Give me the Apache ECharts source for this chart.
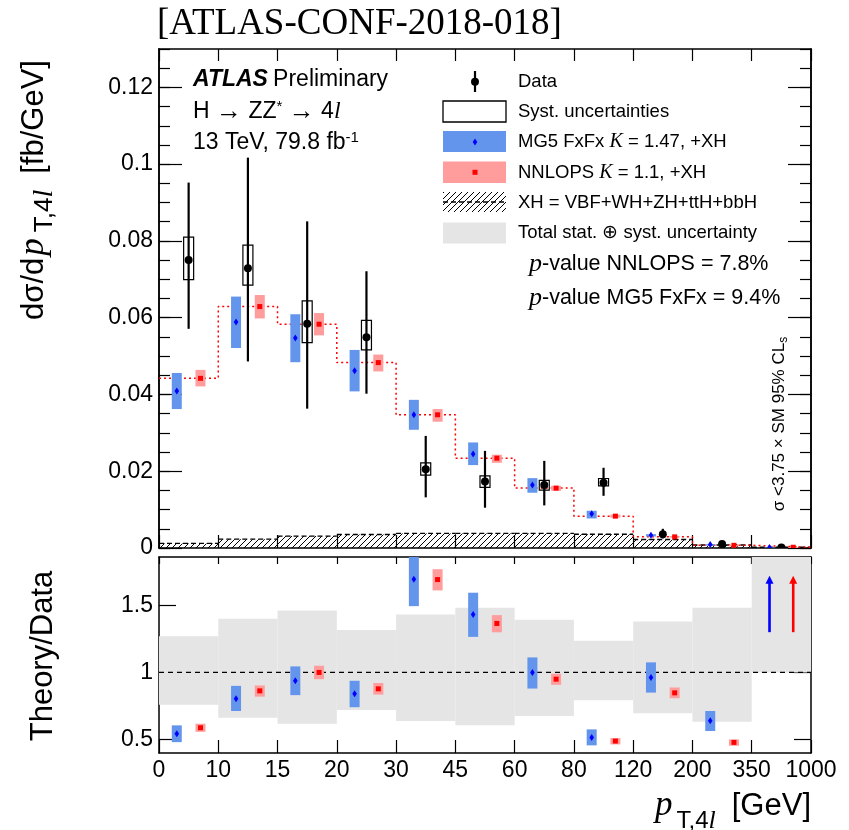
<!DOCTYPE html>
<html>
<head>
<meta charset="utf-8">
<script src="https://cdn.jsdelivr.net/npm/echarts@6/dist/echarts.min.js"></script>
<style>
  html, body { margin: 0; padding: 0; background: #fff; }
  #chart { width: 849px; height: 830px; }
</style>
</head>
<body>
<div id="chart"></div>
<script>
// Bin edges of p_T,4l [GeV]; bins are drawn with equal display width
const binEdges = ['0', '10', '15', '20', '30', '45', '60', '80', '120', '200', '350', '1000'];

// Measured differential cross section [fb/GeV]
const dataVal   = [0.0750, 0.0729, 0.0584, 0.0549, 0.0205, 0.0173, 0.0164, 0.0170, 0.0036, 0.00104, 0.0001];
const dataErrHi = [0.0952, 0.1017, 0.0851, 0.0721, 0.0292, 0.0253, 0.0227, 0.0209, 0.0050, 0.00154, 0.0005];
const dataErrLo = [0.0571, 0.0486, 0.0363, 0.0402, 0.0132, 0.0105, 0.0111, 0.0136, 0.0025, 0.00066, 0.0];
const systHi    = [0.0810, 0.0789, 0.0644, 0.0593, 0.0222, 0.0188, 0.0176, 0.0181, null, null, null];
const systLo    = [0.0699, 0.0685, 0.0535, 0.0516, 0.0190, 0.0158, 0.0151, 0.0162, null, null, null];

// MG5 FxFx (K = 1.47) + XH prediction
const mgVal = [0.0409, 0.0589, 0.0547, 0.0462, 0.0347, 0.0245, 0.0164, 0.0089, 0.0033, 0.0009, 0.0001];
const mgHi  = [0.0456, 0.0655, 0.0609, 0.0516, 0.0386, 0.0275, 0.0182, 0.0097, 0.0036, 0.0010, 0.00012];
const mgLo  = [0.0362, 0.0521, 0.0484, 0.0408, 0.0308, 0.0216, 0.0144, 0.0077, 0.0030, 0.0008, 0.00008];

// NNLOPS (K = 1.1) + XH prediction
const nnVal = [0.0442, 0.0629, 0.0583, 0.0483, 0.0347, 0.0234, 0.0156, 0.0083, 0.0029, 0.0007, 0.0002];
const nnHi  = [0.0464, 0.0659, 0.0612, 0.0504, 0.0362, 0.0243, 0.0162, 0.0087, 0.0031, 0.0008, 0.00025];
const nnLo  = [0.0421, 0.0598, 0.0554, 0.0460, 0.0329, 0.0222, 0.0149, 0.0079, 0.0027, 0.0006, 0.00015];

// XH = VBF+WH+ZH+ttH+bbH contribution
const xhVal = [0.0012, 0.0023, 0.0031, 0.0035, 0.0038, 0.0038, 0.0038, 0.0036, 0.0022, 0.0008, 0.0002];

// Theory/Data ratios (last bin is off scale and shown as arrows)
const ratioMg   = [0.543, 0.805, 0.938, 0.841, 1.694, 1.432, 1.000, 0.516, 0.963, 0.641];
const ratioMgHi = [0.606, 0.900, 1.045, 0.938, 1.900, 1.594, 1.112, 0.576, 1.075, 0.713];
const ratioMgLo = [0.481, 0.713, 0.831, 0.741, 1.494, 1.265, 0.880, 0.457, 0.850, 0.564];
const ratioNn   = [0.588, 0.863, 1.000, 0.878, 1.692, 1.365, 0.950, 0.489, 0.848, 0.479];
const ratioNnHi = [0.618, 0.903, 1.050, 0.921, 1.769, 1.427, 0.990, 0.511, 0.888, 0.501];
const ratioNnLo = [0.558, 0.820, 0.950, 0.835, 1.611, 1.299, 0.908, 0.464, 0.808, 0.454];
const arrowBin  = 10;
const arrowFrom = [1.30, 1.30];
const arrowTo   = [1.72, 1.72];

// Total stat. (+) syst. uncertainty of the data, relative
const totUncHi = [1.269, 1.400, 1.462, 1.317, 1.432, 1.482, 1.392, 1.237, 1.380, 1.482, 2.000];
const totUncLo = [0.760, 0.663, 0.618, 0.721, 0.638, 0.606, 0.676, 0.793, 0.696, 0.633, 1.000];

const yTicksTop = [0, 0.02, 0.04, 0.06, 0.08, 0.1, 0.12];
const yTicksRatio = [0.5, 1, 1.5];

const SANS = '"Liberation Sans", Arial, Helvetica, sans-serif';
const SERIF = '"Liberation Serif", "Times New Roman", serif';
const BLUE_BAND = '#6495ed';
const RED_BAND = '#ff9c9c';
const GREY_BAND = '#e5e5e5';

// diagonal hatch pattern
const hatchCanvas = document.createElement('canvas');
hatchCanvas.width = 6; hatchCanvas.height = 6;
(function () {
  const c = hatchCanvas.getContext('2d');
  c.strokeStyle = '#000'; c.lineWidth = 1;
  c.beginPath();
  c.moveTo(0, 6); c.lineTo(6, 0);
  c.moveTo(-1, 1); c.lineTo(1, -1);
  c.moveTo(5, 7); c.lineTo(7, 5);
  c.stroke();
})();
const hatchFill = { image: hatchCanvas, repeat: 'repeat' };

const chart = echarts.init(document.getElementById('chart'), null, { renderer: 'canvas' });

function xAxisDef(grid, pos, tickLen, showLabel) {
  return {
    type: 'value', gridIndex: grid, position: pos, min: 0, max: 11, interval: 1,
    axisLine: { show: true, onZero: false, lineStyle: { color: '#000', width: 1.5 } },
    axisTick: { show: true, inside: true, length: tickLen, lineStyle: { color: '#000', width: 1.2 } },
    axisLabel: showLabel ? {
      show: true, color: '#000', fontFamily: SANS, fontSize: 23, margin: 6,
      formatter: v => binEdges[Math.round(v)]
    } : { show: false },
    splitLine: { show: false }
  };
}

function yAxisDef(grid, pos, min, max, opts) {
  const a = {
    type: 'value', gridIndex: grid, position: pos, min: min, max: max,
    axisLine: { show: true, onZero: false, lineStyle: { color: '#000', width: 1.5 } },
    axisTick: { show: true, inside: true, length: opts.tickLen, lineStyle: { color: '#000', width: 1.2 } },
    axisLabel: { show: false },
    splitLine: { show: false }
  };
  if (opts.interval) a.interval = opts.interval;
  if (opts.custom) a.axisTick.customValues = opts.custom;
  if (opts.labels) {
    a.axisLabel = { show: true, color: '#000', fontFamily: SANS, fontSize: 23, margin: 6,
      customValues: opts.custom, formatter: v => String(+v.toFixed(3)) };
  }
  return a;
}

// predicted band + central marker, offset within a bin
function theoryItem(offsetFrac, fill, markColor, diamond) {
  return function (params, api) {
    const i = api.value(0), lo = api.value(1), hi = api.value(2), v = api.value(3);
    const bw = api.size([1, 0])[0];
    const xc = api.coord([i + 0.5, v])[0] + offsetFrac * bw;
    const yHi = api.coord([i, hi])[1], yLo = api.coord([i, lo])[1], yc = api.coord([i, v])[1];
    const w = 10;
    const kids = [{
      type: 'rect', shape: { x: xc - w / 2, y: yHi, width: w, height: Math.max(yLo - yHi, 1.5) },
      style: { fill: fill }
    }];
    if (diamond) {
      kids.push({ type: 'polygon', shape: { points: [[xc, yc - 3.5], [xc + 2.3, yc], [xc, yc + 3.5], [xc - 2.3, yc]] },
        style: { fill: markColor } });
    } else {
      kids.push({ type: 'rect', shape: { x: xc - 2.5, y: yc - 2.5, width: 5, height: 5 }, style: { fill: markColor } });
    }
    return { type: 'group', children: kids };
  };
}

function dataItem(params, api) {
  const i = api.value(0), v = api.value(1), lo = api.value(2), hi = api.value(3);
  const sLo = api.value(4), sHi = api.value(5);
  const p = api.coord([i + 0.5, v]);
  const yHi = api.coord([i, hi])[1], yLo = api.coord([i, lo])[1];
  const kids = [{
    type: 'line', shape: { x1: p[0], y1: yHi, x2: p[0], y2: yLo },
    style: { stroke: '#000', lineWidth: 2.2 }
  }];
  if (!isNaN(sLo) && !isNaN(sHi)) {
    const ySHi = api.coord([i, sHi])[1], ySLo = api.coord([i, sLo])[1];
    kids.push({ type: 'rect', shape: { x: p[0] - 5, y: ySHi, width: 10, height: ySLo - ySHi },
      style: { fill: 'none', stroke: '#000', lineWidth: 1.2 } });
  }
  kids.push({ type: 'circle', shape: { cx: p[0], cy: p[1], r: 4 }, style: { fill: '#000' } });
  return { type: 'group', children: kids };
}

function xhItem(params, api) {
  const i = api.value(0), v = api.value(1);
  const a = api.coord([i, v]), b = api.coord([i + 1, 0]);
  return { type: 'group', children: [
    { type: 'rect', shape: { x: a[0], y: a[1], width: b[0] - a[0], height: b[1] - a[1] }, style: { fill: hatchFill } },
    { type: 'line', shape: { x1: a[0], y1: a[1], x2: b[0], y2: a[1] },
      style: { stroke: '#000', lineWidth: 1.4, lineDash: [5, 3] } }
  ] };
}

function bandItem(params, api) {
  const i = api.value(0), lo = api.value(1), hi = api.value(2);
  const a = api.coord([i, hi]), b = api.coord([i + 1, lo]);
  return { type: 'rect', shape: { x: a[0], y: a[1], width: b[0] - a[0], height: b[1] - a[1] },
    style: { fill: GREY_BAND } };
}

function arrowItem(offsetFrac, color) {
  return function (params, api) {
    const i = api.value(0), from = api.value(1), to = api.value(2);
    const bw = api.size([1, 0])[0];
    const x = api.coord([i + 0.5, from])[0] + offsetFrac * bw;
    const y0 = api.coord([i, from])[1], y1 = api.coord([i, to])[1];
    return { type: 'group', children: [
      { type: 'line', shape: { x1: x, y1: y0, x2: x, y2: y1 + 6 }, style: { stroke: color, lineWidth: 2.6 } },
      { type: 'polygon', shape: { points: [[x, y1], [x + 4, y1 + 8], [x - 4, y1 + 8]] }, style: { fill: color } }
    ] };
  };
}

const idx = dataVal.map((_, i) => i);
const nnStep = nnVal.map((v, i) => [i, v]).concat([[11, nnVal[nnVal.length - 1]]]);

const option = {
  animation: false,
  backgroundColor: '#fff',
  grid: [
    { left: 159, top: 49, width: 652, height: 499 },
    { left: 159, top: 557, width: 652, height: 196 }
  ],
  xAxis: [
    xAxisDef(0, 'bottom', 13, false),
    xAxisDef(0, 'top', 12, false),
    xAxisDef(1, 'bottom', 13, true),
    xAxisDef(1, 'top', 7, false)
  ],
  yAxis: [
    yAxisDef(0, 'left', 0, 0.13, { tickLen: 23, custom: yTicksTop, labels: true }),
    yAxisDef(0, 'left', 0, 0.13, { tickLen: 11, interval: 0.005 }),
    yAxisDef(0, 'right', 0, 0.13, { tickLen: 23, custom: yTicksTop }),
    yAxisDef(0, 'right', 0, 0.13, { tickLen: 11, interval: 0.005 }),
    yAxisDef(1, 'left', 0.4, 1.86, { tickLen: 17, custom: yTicksRatio, labels: true }),
    yAxisDef(1, 'right', 0.4, 1.86, { tickLen: 17, custom: yTicksRatio })
  ],
  series: [
    // upper panel
    { type: 'custom', xAxisIndex: 0, yAxisIndex: 0, z: 2, clip: true, renderItem: xhItem,
      data: idx.map(i => [i, xhVal[i]]) },
    { type: 'line', xAxisIndex: 0, yAxisIndex: 0, z: 3, step: 'end', symbol: 'none',
      lineStyle: { color: '#ff0000', width: 1.5, type: [2, 3] }, data: nnStep },
    { type: 'custom', xAxisIndex: 0, yAxisIndex: 0, z: 4, clip: true,
      renderItem: theoryItem(-0.2, BLUE_BAND, '#0000ff', true),
      data: idx.map(i => [i, mgLo[i], mgHi[i], mgVal[i]]) },
    { type: 'custom', xAxisIndex: 0, yAxisIndex: 0, z: 4, clip: true,
      renderItem: theoryItem(0.2, RED_BAND, '#ff0000', false),
      data: idx.map(i => [i, nnLo[i], nnHi[i], nnVal[i]]) },
    { type: 'custom', xAxisIndex: 0, yAxisIndex: 0, z: 5, clip: true, renderItem: dataItem,
      data: idx.map(i => [i, dataVal[i], dataErrLo[i], dataErrHi[i],
        systLo[i] === null ? NaN : systLo[i], systHi[i] === null ? NaN : systHi[i]]) },
    // ratio panel
    { type: 'custom', xAxisIndex: 2, yAxisIndex: 4, z: 1, clip: true, renderItem: bandItem,
      data: idx.map(i => [i, totUncLo[i], totUncHi[i]]) },
    { type: 'line', xAxisIndex: 2, yAxisIndex: 4, z: 2, symbol: 'none',
      lineStyle: { color: '#000', width: 1.3, type: [5, 4] }, data: [[0, 1], [11, 1]] },
    { type: 'custom', xAxisIndex: 2, yAxisIndex: 4, z: 4, clip: true,
      renderItem: theoryItem(-0.2, BLUE_BAND, '#0000ff', true),
      data: ratioMg.map((v, i) => [i, ratioMgLo[i], ratioMgHi[i], v]) },
    { type: 'custom', xAxisIndex: 2, yAxisIndex: 4, z: 4, clip: true,
      renderItem: theoryItem(0.2, RED_BAND, '#ff0000', false),
      data: ratioNn.map((v, i) => [i, ratioNnLo[i], ratioNnHi[i], v]) },
    { type: 'custom', xAxisIndex: 2, yAxisIndex: 4, z: 5, renderItem: arrowItem(-0.2, '#0000ff'),
      data: [[arrowBin, arrowFrom[0], arrowTo[0]]] },
    { type: 'custom', xAxisIndex: 2, yAxisIndex: 4, z: 5, renderItem: arrowItem(0.2, '#ff0000'),
      data: [[arrowBin, arrowFrom[1], arrowTo[1]]] }
  ],
  graphic: []
};

// text helpers
function txt(x, y, text, rich, extra) {
  return Object.assign({
    type: 'text', x: x, y: y, z: 100,
    style: { text: text, rich: rich, fill: '#000', align: 'left', verticalAlign: 'middle',
      textAlign: 'left', textVerticalAlign: 'middle', fontFamily: SANS, fontSize: 18.5 }
  }, extra || {});
}
const R = (size, more) => Object.assign({ fontFamily: SANS, fontSize: size, fill: '#000', color: '#000' }, more || {});
const ITAL = (size, more) => R(size, Object.assign({ fontFamily: SERIF, fontStyle: 'italic' }, more || {}));

const g = option.graphic;
g.push(txt(157, 24, '[ATLAS-CONF-2018-018]', null));
Object.assign(g[g.length - 1].style, { fontFamily: SERIF, fontSize: 37 });

g.push(txt(193, 80, '{b|ATLAS} {n|Preliminary}', {
  b: R(23, { fontWeight: 'bold', fontStyle: 'italic' }), n: R(23) }));
g.push(txt(193, 112, '{n|H }{ar|\u2192}{n| ZZ}{sup|*}{n| }{ar|\u2192}{n| 4}{it|l}', {
  n: R(23), ar: R(26), sup: R(15, { padding: [0, 0, 10, 0] }), it: ITAL(24) }));
g.push(txt(193, 143, '{n|13 TeV, 79.8 fb}{sup|-1}', {
  n: R(23), sup: R(15, { padding: [0, 0, 11, 0] }) }));

// legend
const LX = 443, LW = 63, TX = 518;
g.push({ type: 'line', z: 100, shape: { x1: 475, y1: 71, x2: 475, y2: 92 }, style: { stroke: '#000', lineWidth: 2.2 } });
g.push({ type: 'circle', z: 100, shape: { cx: 475, cy: 81.7, r: 4 }, style: { fill: '#000' } });
g.push(txt(TX, 82, 'Data', null));

g.push({ type: 'rect', z: 100, shape: { x: LX, y: 101, width: LW, height: 21 }, style: { fill: '#fff', stroke: '#000', lineWidth: 1.3 } });
g.push(txt(TX, 112, 'Syst. uncertainties', null));

g.push({ type: 'rect', z: 100, shape: { x: LX, y: 131, width: LW, height: 21 }, style: { fill: BLUE_BAND } });
g.push({ type: 'polygon', z: 101, shape: { points: [[475, 138.5], [477.3, 142], [475, 145.5], [472.7, 142]] }, style: { fill: '#0000ff' } });
g.push(txt(TX, 142, '{n|MG5 FxFx }{it|K}{n| = 1.47, +XH}', { n: R(18.5), it: ITAL(20) }));

g.push({ type: 'rect', z: 100, shape: { x: LX, y: 161.5, width: LW, height: 21.5 }, style: { fill: RED_BAND } });
g.push({ type: 'rect', z: 101, shape: { x: 472.5, y: 169.8, width: 5, height: 5 }, style: { fill: '#ff0000' } });
g.push(txt(TX, 172.5, '{n|NNLOPS }{it|K}{n| = 1.1, +XH}', { n: R(18.5), it: ITAL(20) }));

g.push({ type: 'rect', z: 100, shape: { x: LX, y: 192, width: LW, height: 20 }, style: { fill: hatchFill } });
g.push({ type: 'line', z: 101, shape: { x1: LX, y1: 202, x2: LX + LW, y2: 202 }, style: { stroke: '#000', lineWidth: 1.4, lineDash: [5, 3] } });
g.push(txt(TX, 203, 'XH = VBF+WH+ZH+ttH+bbH', null));

g.push({ type: 'rect', z: 100, shape: { x: LX, y: 222.5, width: LW, height: 21 }, style: { fill: GREY_BAND } });
g.push(txt(TX, 233, 'Total stat. \u2295 syst. uncertainty', null));

g.push(txt(529, 264, '{p|p}{n|-value NNLOPS = 7.8%}', { p: ITAL(26), n: R(21.5) }));
g.push(txt(529, 298, '{p|p}{n|-value MG5 FxFx = 9.4%}', { p: ITAL(26), n: R(21.5) }));

// limit annotation in the last bins
g.push(txt(779, 424, '{n|\u03c3 <3.75 \u00d7 SM 95% CL}{sub|s}', { n: R(17), sub: R(12, { padding: [9, 0, 0, 0] }) }, { rotation: Math.PI / 2 }));
Object.assign(g[g.length - 1].style, { align: 'center', textAlign: 'center' });

// axis titles
const yTitleRich = {
  n: R(31), p: ITAL(35, { padding: [0, 4, 0, 2] }),
  sub: R(26, { padding: [22, 0, 0, 2] }),
  subit: ITAL(28, { padding: [22, 16, 0, 0] })
};
g.push(txt(34, 190, '{n|d\u03c3/d}{p|p}{sub|T,4}{subit|l}{n|[fb/GeV]}', yTitleRich, { rotation: Math.PI / 2 }));
Object.assign(g[g.length - 1].style, { align: 'center', textAlign: 'center' });

g.push(txt(43, 656, 'Theory/Data', null, { rotation: Math.PI / 2 }));
Object.assign(g[g.length - 1].style, { align: 'center', textAlign: 'center', fontSize: 31 });

const xTitleRich = {
  n: R(31), p: ITAL(35, { padding: [0, 2, 0, 0] }),
  sub: R(24, { padding: [30, 0, 0, 2] }),
  subit: ITAL(26, { padding: [30, 16, 0, 0] })
};
g.push(txt(811, 806, '{p|p}{sub|T,4}{subit|l}{n|[GeV]}', xTitleRich));
Object.assign(g[g.length - 1].style, { align: 'right', textAlign: 'right' });

chart.setOption(option);
</script>
</body>
</html>
